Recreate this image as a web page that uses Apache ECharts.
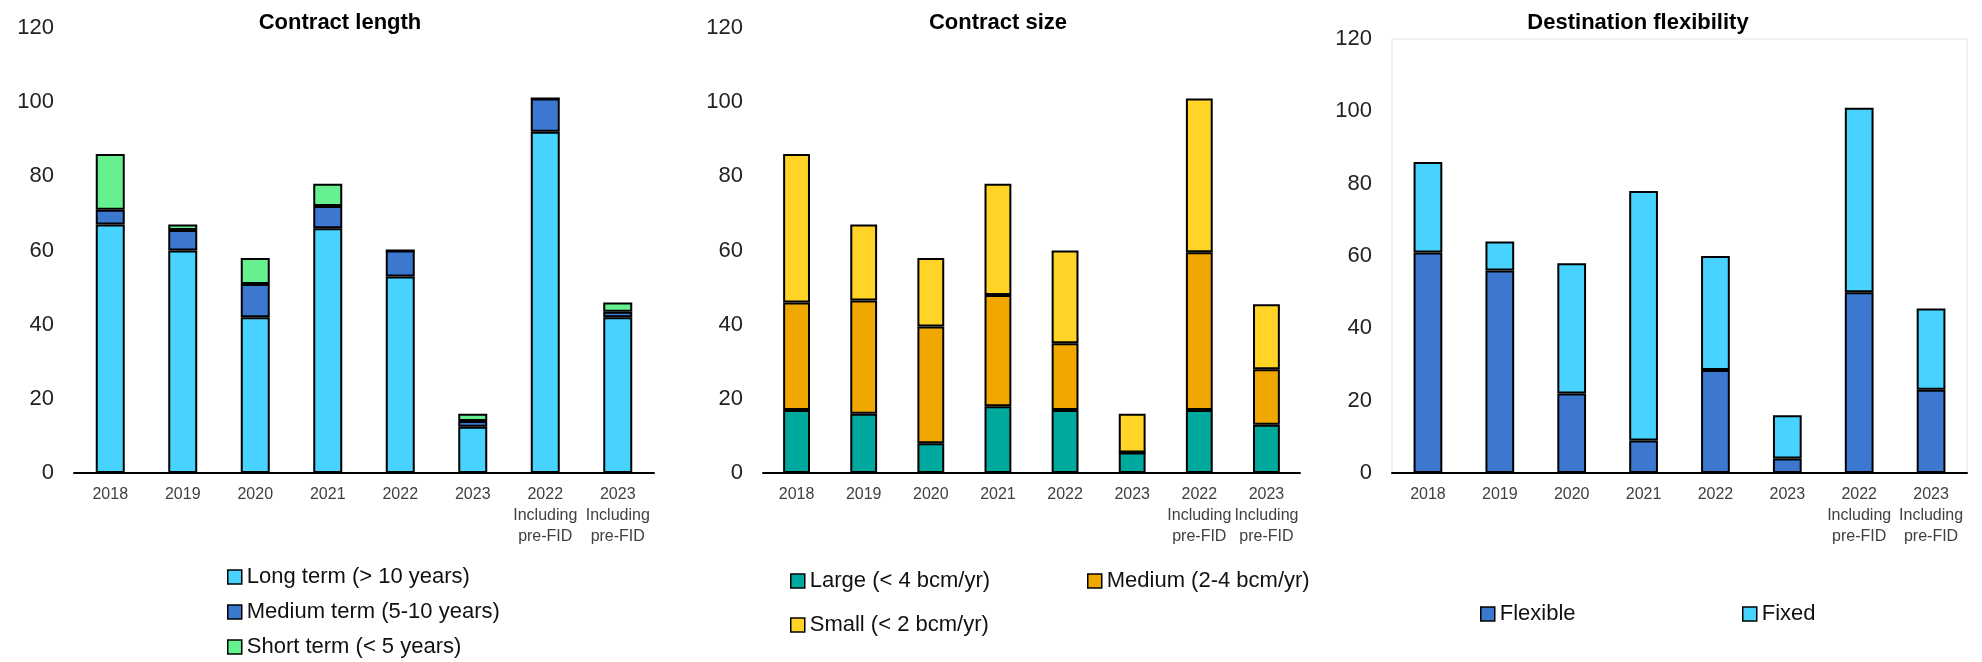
<!DOCTYPE html>
<html>
<head>
<meta charset="utf-8">
<script src="https://cdn.jsdelivr.net/npm/echarts@6/dist/echarts.min.js"></script>
<style>
  html, body { margin: 0; padding: 0; background: #fff; }
  #chart { width: 1982px; height: 662px; }
</style>
</head>
<body>
<div id="chart"></div>
<script>
var years = ['2018', '2019', '2020', '2021', '2022', '2023', '2022\nIncluding\npre-FID', '2023\nIncluding\npre-FID']

// contract length
var longTerm = [67, 60, 42, 66, 53, 12.5, 92, 42]
var mediumTerm = [4, 5.5, 9, 6, 7, 1.5, 9, 1.5]
var shortTerm = [15, 1.5, 7, 6, 0, 2, 0, 2.5]

// contract size
var largeSize = [17, 16, 8, 18, 17, 5.5, 17, 13]
var mediumSize = [29, 30.5, 31.5, 30, 18, 0, 42.5, 15]
var smallSize = [40, 20.5, 18.5, 30, 25, 10.5, 41.5, 17.5]

// destination flexibility
var flexible = [61, 56, 22, 9, 28.5, 4, 50, 23]
var fixed = [25, 8, 36, 69, 31.5, 12, 51, 22.5]

var yMin = 0
var yMax = 120
var yStep = 20

var FONT = 'Liberation Sans, Arial, sans-serif'

var colors = {
  long: '#48D3FF',
  medium: '#3C78D0',
  short: '#66F08F',
  large: '#00A99D',
  mediumSize: '#F0A800',
  small: '#FFD427'
}

function xAxisFor (idx) {
  return {
    type: 'category',
    gridIndex: idx,
    data: years,
    axisLine: { show: true, lineStyle: { color: '#000', width: 2 } },
    axisTick: { show: false },
    axisLabel: {
      interval: 0,
      margin: 11,
      color: '#404040',
      fontFamily: FONT,
      fontSize: 16,
      lineHeight: 21
    }
  }
}

function yAxisFor (idx) {
  return {
    type: 'value',
    gridIndex: idx,
    min: yMin,
    max: yMax,
    interval: yStep,
    splitLine: { show: false },
    axisLine: { show: false },
    axisTick: { show: false },
    axisLabel: { margin: 20, color: '#222', fontFamily: FONT, fontSize: 22 }
  }
}

function barSeries (name, data, color, idx) {
  return {
    name: name,
    type: 'bar',
    stack: 'p' + idx,
    xAxisIndex: idx,
    yAxisIndex: idx,
    barWidth: '40%',
    data: data,
    itemStyle: { color: color, borderColor: '#000', borderWidth: 2 },
    emphasis: { disabled: true }
  }
}

function legendAt (names, left, top, orient) {
  return {
    data: names,
    left: left,
    top: top,
    orient: orient || 'horizontal',
    padding: 0,
    itemGap: 13,
    itemWidth: 14,
    itemHeight: 14,
    icon: 'rect',
    selectedMode: false,
    itemStyle: { borderColor: '#000', borderWidth: 1.5 },
    textStyle: { color: '#111', fontFamily: FONT, fontSize: 22, lineHeight: 22 }
  }
}

function titleAt (text, left) {
  return {
    text: text,
    left: left,
    top: 12,
    padding: 0,
    textAlign: 'center',
    textStyle: { fontFamily: FONT, fontSize: 22, fontWeight: 'bold', color: '#000' }
  }
}

var chart = echarts.init(document.getElementById('chart'))

chart.setOption({
  animation: false,
  backgroundColor: '#fff',
  title: [
    titleAt('Contract length', 340),
    titleAt('Contract size', 998),
    titleAt('Destination flexibility', 1638)
  ],
  grid: [
    { left: 74, right: 1328, top: 28, bottom: 189 },
    { left: 763, right: 682, top: 28, bottom: 189 },
    { left: 1392, right: 15, top: 39, bottom: 189, show: true, borderColor: '#e3e3e3', borderWidth: 1 }
  ],
  xAxis: [xAxisFor(0), xAxisFor(1), xAxisFor(2)],
  yAxis: [yAxisFor(0), yAxisFor(1), yAxisFor(2)],
  legend: [
    legendAt(['Long term (> 10 years)', 'Medium term (5-10 years)', 'Short term (< 5 years)'], 227, 566, 'vertical'),
    legendAt(['Large (< 4 bcm/yr)'], 790, 570),
    legendAt(['Medium (2-4 bcm/yr)'], 1087, 570),
    legendAt(['Small (< 2 bcm/yr)'], 790, 614),
    legendAt(['Flexible'], 1480, 603),
    legendAt(['Fixed'], 1742, 603)
  ],
  series: [
    barSeries('Long term (> 10 years)', longTerm, colors.long, 0),
    barSeries('Medium term (5-10 years)', mediumTerm, colors.medium, 0),
    barSeries('Short term (< 5 years)', shortTerm, colors.short, 0),
    barSeries('Large (< 4 bcm/yr)', largeSize, colors.large, 1),
    barSeries('Medium (2-4 bcm/yr)', mediumSize, colors.mediumSize, 1),
    barSeries('Small (< 2 bcm/yr)', smallSize, colors.small, 1),
    barSeries('Flexible', flexible, colors.medium, 2),
    barSeries('Fixed', fixed, colors.long, 2)
  ]
})
</script>
</body>
</html>
